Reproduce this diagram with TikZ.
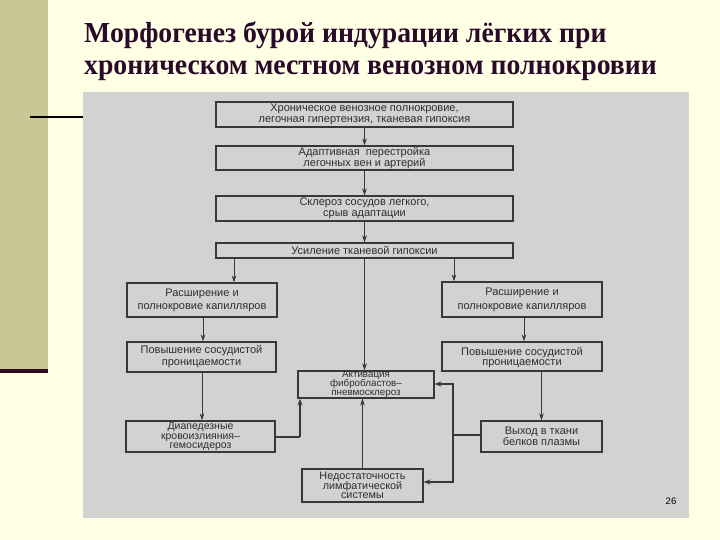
\documentclass[tikz,border=0pt]{standalone}
\usepackage{fontspec}
\setmainfont{Liberation Serif}
\newfontfamily\boxfont{Liberation Sans}
\usetikzlibrary{arrows.meta}
\definecolor{bgc}{HTML}{FFFFE6}
\definecolor{barc}{HTML}{C9C796}
\definecolor{darkc}{HTML}{2E0A22}
\definecolor{titc}{HTML}{2A0A2A}
\definecolor{photoc}{HTML}{D2D2D0}
\definecolor{boxc}{HTML}{383838}
\definecolor{txtc}{HTML}{2E2E2E}
\newcommand{\bxf}[2]{\boxfont\fontsize{#1}{#2}\selectfont\lineskiplimit=-20pt\relax}
\tikzset{
  box/.style={draw=boxc, line width=1.1pt, align=center, inner sep=0pt, text=txtc,
    font={\bxf{11}{10.5}}},
  arr/.style={draw=boxc, line width=1pt, -{Stealth[length=7pt,width=4.5pt]}},
  fatline/.style={draw=boxc, line width=2.4pt},
  fatarr/.style={draw=boxc, line width=2.4pt, -{Stealth[length=7pt,width=5pt]}},
  titlefont/.style={anchor=base west, inner sep=0pt, text=titc,
    font={\bfseries\fontsize{29}{29}\selectfont}}
}
\begin{document}
\begin{tikzpicture}[x=1pt,y=-1pt]
\useasboundingbox (0,0) rectangle (720,540);
\fill[bgc] (0,0) rectangle (720,540);
\fill[barc] (0,0) rectangle (48,369);
\fill[darkc] (0,369) rectangle (48,373);
\fill[photoc] (83,92) rectangle (689,518);
\draw[black, line width=1.8pt] (30,117) -- (83,117);

\node[titlefont] (t1) at (84,43) {\scalebox{0.956}[1]{Морфогенез бурой индурации лёгких при}};
\node[titlefont] (t2) at (84,75) {\scalebox{0.956}[1]{хроническом местном венозном полнокровии}};

\node[box, minimum width=297pt, minimum height=25pt] (b1) at (364.5,114.5)
  {Хроническое венозное полнокровие,\\легочная гипертензия, тканевая гипоксия};
\node[box, minimum width=297pt, minimum height=24pt] (b2) at (364.5,158)
  {Адаптивная \ перестройка\\легочных вен и артерий};
\node[box, minimum width=297pt, minimum height=25pt] (b3) at (364.5,208.5)
  {Склероз сосудов легкого,\\срыв адаптации};
\node[box, minimum width=297pt, minimum height=15pt] (b4) at (364.5,250.5)
  {Усиление тканевой гипоксии};

\node[box, minimum width=150pt, minimum height=34pt, font={\bxf{11}{13}}] (l5) at (202,300)
  {Расширение и\\полнокровие капилляров};
\node[box, minimum width=160pt, minimum height=35pt, font={\bxf{11}{14}}] (r5) at (522,299.5)
  {Расширение и\\полнокровие капилляров};
\node[box, minimum width=149pt, minimum height=30pt, font={\bxf{11}{12}}] (l6) at (201.5,357)
  {Повышение сосудистой\\проницаемости};
\node[box, minimum width=160pt, minimum height=29pt] (r6) at (522,356.5)
  {\rule{0pt}{10pt}Повышение сосудистой\\проницаемости};
\node[box, minimum width=136pt, minimum height=27pt,
  font={\bxf{9.8}{8.9}}] (act) at (366,384.5)
  {Активация\\фибробластов–\\пневмосклероз};
\node[box, minimum width=149pt, minimum height=31pt,
  font={\bxf{10.5}{9.4}}] (l7) at (200.5,436.5)
  {Диапедезные\\кровоизлияния–\\гемосидероз};
\node[box, minimum width=121pt, minimum height=31pt,
  font={\bxf{11}{11}}] (r7) at (541.5,436.5)
  {Выход в ткани\\белков плазмы};
\node[box, minimum width=121pt, minimum height=33pt,
  font={\bxf{10.8}{9.6}}] (bot) at (362.5,485.5)
  {Недостаточность\\лимфатической\\системы};

\node[inner sep=0pt, font={\boxfont\fontsize{9.5}{9.5}\selectfont}] (pg) at (671,501) {26};

\coordinate (xl) at (234,0);
\coordinate (xr) at (454,0);
\coordinate (xl1) at (203,0);
\coordinate (xl2) at (202,0);
\coordinate (xr1) at (524,0);
\coordinate (cL) at (300,437);
\coordinate (cR) at (453,435);
\coordinate (cRt) at (453,384);
\coordinate (cRb) at (453,482);

\draw[arr] (b1.south) -- (b2.north);
\draw[arr] (b2.south) -- (b3.north);
\draw[arr] (b3.south) -- (b4.north);
\draw[arr] (b4.south -| xl) -- (l5.north -| xl);
\draw[arr] (b4.south -| xr) -- (r5.north -| xr);
\draw[arr] (b4.south) -- (b4.south |- act.north);
\draw[arr] (l5.south -| xl1) -- (l6.north -| xl1);
\draw[arr] (l6.south -| xl2) -- (l7.north -| xl2);
\draw[arr] (r5.south -| xr1) -- (r6.north -| xr1);
\draw[arr] (r7.north |- r6.south) -- (r7.north);
\draw[arr] (bot.north) -- (bot.north |- act.south);

\draw[fatline] (l7.east |- cL) -- (cL);
\draw[fatarr] (cL) -- (cL |- act.south);
\draw[fatline] (r7.west |- cR) -- (cR);
\draw[fatarr] (cR) -- (cRt) -- (cRt -| act.east);
\draw[fatarr] (cR) -- (cRb) -- (cRb -| bot.east);
\end{tikzpicture}
\end{document}
